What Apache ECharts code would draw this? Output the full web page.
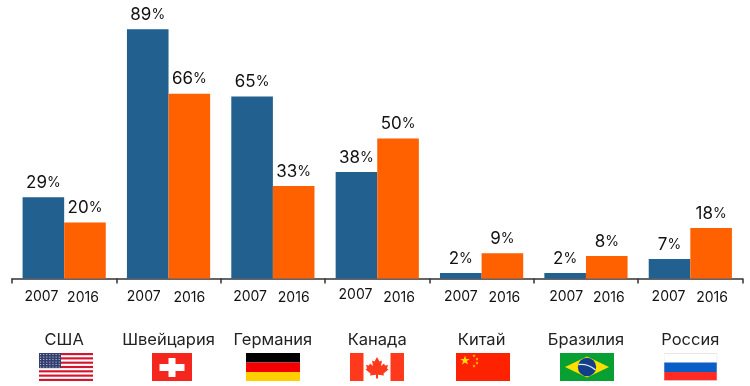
<!DOCTYPE html>
<html>
<head>
<meta charset="utf-8">
<style>
  html, body { margin: 0; padding: 0; background: #fff; }
  #chart { width: 750px; height: 386px; }
</style>
<script src="https://cdn.jsdelivr.net/npm/echarts@6/dist/echarts.min.js"></script>
</head>
<body>
<div id="chart"></div>
<script>
var countries = ['США', 'Швейцария', 'Германия', 'Канада', 'Китай', 'Бразилия', 'Россия'];
var values2007 = [29, 89, 65, 38, 2, 2, 7];
var values2016 = [20, 66, 33, 50, 9, 8, 18];
var yearNames = ['2007', '2016'];

var FONT = 'Inter, sans-serif';
var BLUE = '#22608f';
var ORANGE = '#ff6100';

// the year captions sit a little unevenly in the original: [dx, dy]
var nudge2007 = [[-2, 0], [-4, 0], [-2, 0], [-1, -2], [0, 0], [1, 0], [-1, 0]];
var nudge2016 = [[-2, 1], [0, 1], [0, 1], [1, 1], [2, 1], [2, 1], [1, 1]];

function svg(w, h, body) {
  return 'data:image/svg+xml;charset=utf-8,' + encodeURIComponent(
    '<svg xmlns="http://www.w3.org/2000/svg" width="' + w + '" height="' + h + '" viewBox="0 0 ' + w + ' ' + h + '">' + body + '</svg>');
}

function usaFlag() {
  var s = '<rect width="54" height="28" fill="#fff"/>';
  for (var i = 0; i < 7; i++) {
    s += '<rect y="' + (i * 4.31).toFixed(2) + '" width="54" height="2.15" fill="#d5152f"/>';
  }
  s += '<rect width="22" height="15.1" fill="#33406f"/>';
  for (var r = 0; r < 6; r++) {
    for (var c = 0; c < 7; c++) {
      s += '<circle cx="' + (1.6 + c * 3.1) + '" cy="' + (1.5 + r * 2.5) + '" r="0.6" fill="#dfe3f0"/>';
    }
  }
  return svg(54, 28, s);
}

function star(cx, cy, r, fill) {
  var p = [];
  for (var i = 0; i < 10; i++) {
    var a = -Math.PI / 2 + i * Math.PI / 5;
    var rr = i % 2 ? r * 0.4 : r;
    p.push((cx + rr * Math.cos(a)).toFixed(2) + ',' + (cy + rr * Math.sin(a)).toFixed(2));
  }
  return '<polygon points="' + p.join(' ') + '" fill="' + fill + '"/>';
}

var flags = [
  { left: 39, width: 54, image: usaFlag() },
  { left: 152, width: 40, image: svg(40, 28,
    '<rect width="40" height="28" fill="#f4261e"/>' +
    '<rect x="7.5" y="11" width="25" height="7" fill="#fff"/>' +
    '<rect x="16.5" y="5" width="7" height="19" fill="#fff"/>') },
  { left: 246, width: 54, image: svg(54, 28,
    '<rect width="54" height="9.5" fill="#000"/>' +
    '<rect y="9.5" width="54" height="9.5" fill="#f40000"/>' +
    '<rect y="19" width="54" height="9" fill="#ffce00"/>') },
  { left: 350, width: 54, image: svg(54, 28,
    '<rect width="54" height="28" fill="#fff"/>' +
    '<rect width="13.5" height="28" fill="#ff3a1c"/>' +
    '<rect x="40.5" width="13.5" height="28" fill="#ff3a1c"/>' +
    '<polygon fill="#ff3a1c" points="27,4 29.5,8.5 32,7.5 31,13 34,10.5 35,12.5 38,12 37,15.5 38.5,16.5 33.5,20.5 34,22.5 28,21.8 28,25.5 26,25.5 26,21.8 20,22.5 20.5,20.5 15.5,16.5 17,15.5 16,12 19,12.5 20,10.5 23,13 22,7.5 24.5,8.5"/>') },
  { left: 456, width: 54, image: svg(54, 28,
    '<rect width="54" height="28" fill="#ff2200"/>' + star(9, 7.5, 5, '#ffdc00') +
    star(18, 2.8, 1.7, '#ffdc00') + star(21, 6, 1.7, '#ffdc00') +
    star(21, 10, 1.7, '#ffdc00') + star(18, 13, 1.7, '#ffdc00')) },
  { left: 560, width: 54, image: svg(54, 28,
    '<rect width="54" height="28" fill="#08a033"/>' +
    '<polygon points="27,3.5 49,14 27,24.5 5,14" fill="#ffdf00"/>' +
    '<circle cx="27" cy="14" r="9.2" fill="#123f88"/>' +
    '<path d="M18.5,11.5 Q28,10.5 35.5,17" stroke="#dfe8f5" stroke-width="1.4" fill="none"/>') },
  { left: 663.5, width: 54, image: svg(54, 28,
    '<rect width="54" height="28" fill="#e2e2e2"/>' +
    '<rect x="0.8" y="0.8" width="52.4" height="9" fill="#fff"/>' +
    '<rect x="0.8" y="9.5" width="52.4" height="9.5" fill="#0a5fc6"/>' +
    '<rect x="0.8" y="19" width="52.4" height="8.2" fill="#ff2a22"/>') }
];

function valueLabel(params) {
  return '{n|' + params.value + '}{p|%}';
}

var labelRich = {
  n: { fontFamily: FONT, fontSize: 17, color: '#111' },
  p: { fontFamily: FONT, fontSize: 14, color: '#111' }
};

function yearSeries(stack, name, nudge) {
  return {
    type: 'bar',
    stack: stack,
    barWidth: 41.6,
    barGap: 0,
    silent: true,
    itemStyle: { color: 'transparent' },
    data: countries.map(function (c, i) {
      return {
        value: 0,
        label: {
          show: true,
          position: 'bottom',
          distance: 11,
          offset: nudge[i],
          formatter: name,
          fontFamily: FONT,
          fontSize: 14,
          color: '#111'
        }
      };
    })
  };
}

function valueSeries(stack, name, data, color) {
  return {
    name: name,
    type: 'bar',
    stack: stack,
    barWidth: 41.6,
    barGap: 0,
    itemStyle: { color: color },
    label: {
      show: true,
      position: 'top',
      distance: 6,
      formatter: valueLabel,
      rich: labelRich
    },
    data: data
  };
}

var chart = echarts.init(document.getElementById('chart'));
chart.setOption({
  animation: false,
  backgroundColor: '#fff',
  grid: { left: 12, right: 7.5, top: 12.5, bottom: 107.5 },
  xAxis: {
    type: 'category',
    data: countries,
    axisLine: { lineStyle: { color: '#333', width: 1.5 } },
    axisTick: { show: true, length: 5, lineStyle: { color: '#333', width: 1.5 } },
    axisLabel: {
      margin: 53,
      interval: 0,
      fontFamily: FONT,
      fontSize: 16.5,
      color: '#222'
    }
  },
  yAxis: { type: 'value', min: 0, max: 95, show: false },
  graphic: flags.map(function (f) {
    return {
      type: 'image',
      left: f.left,
      top: 353,
      style: { image: f.image, width: f.width, height: 28 }
    };
  }),
  series: [
    yearSeries('a', yearNames[0], nudge2007),
    valueSeries('a', yearNames[0], values2007, BLUE),
    yearSeries('b', yearNames[1], nudge2016),
    valueSeries('b', yearNames[1], values2016, ORANGE)
  ]
});
</script>
</body>
</html>
